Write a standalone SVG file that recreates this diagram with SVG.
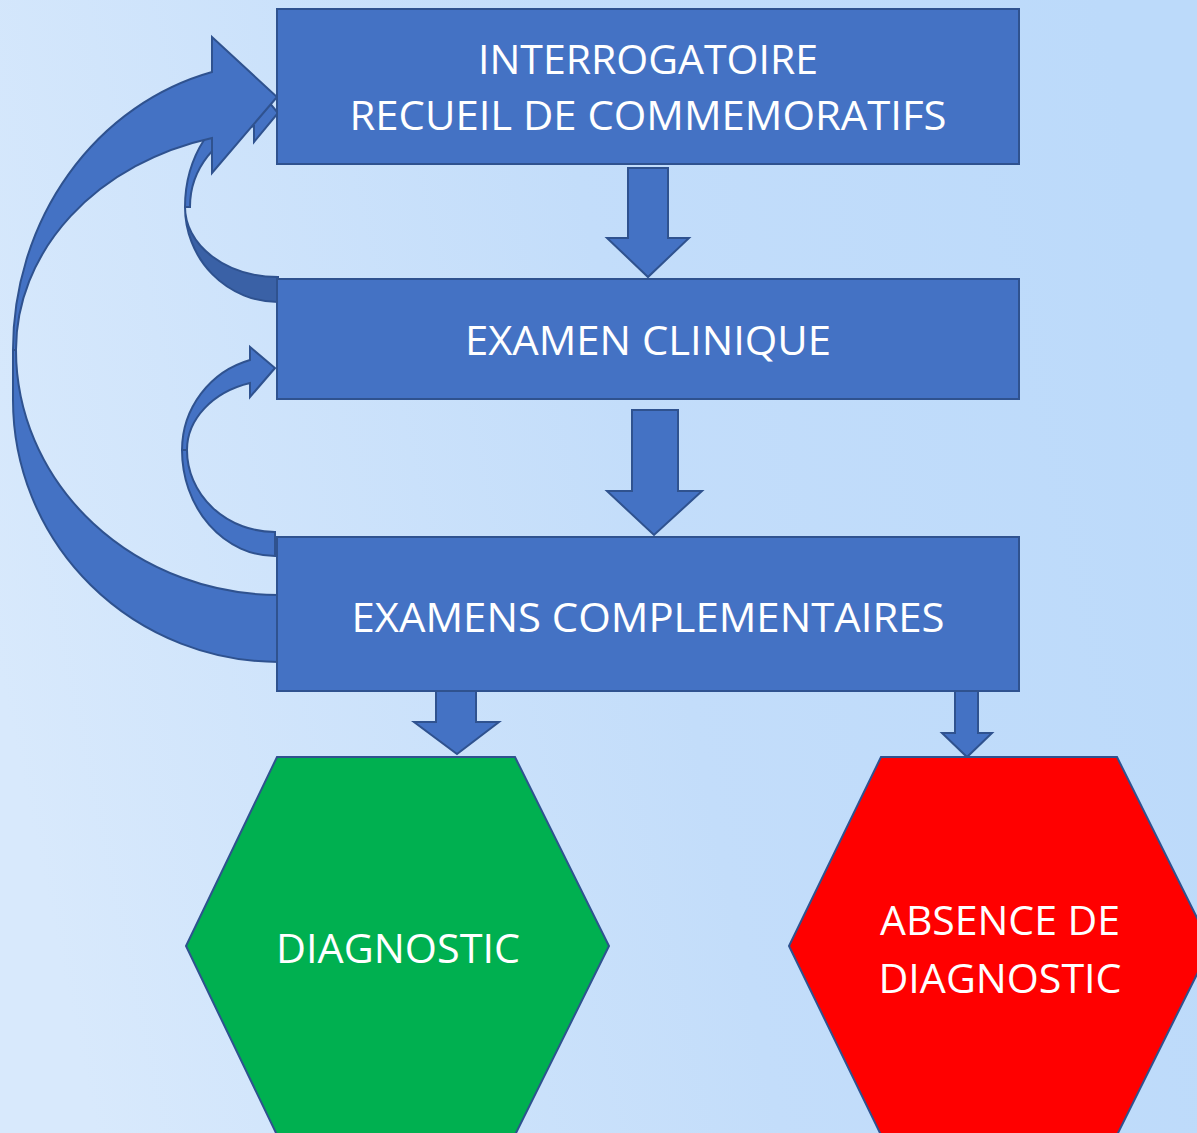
<svg xmlns="http://www.w3.org/2000/svg" width="1197" height="1133" viewBox="0 0 1197 1133">
<defs>
<linearGradient id="bg" x1="0" y1="0.6" x2="1" y2="0.4">
<stop offset="0" stop-color="#d8e9fc"/>
<stop offset="0.55" stop-color="#c3ddfa"/>
<stop offset="1" stop-color="#bcdafa"/>
</linearGradient>
<style>
.box{fill:#4472C4;stroke:#2F528F;stroke-width:2}
.arr{fill:#4472C4;stroke:#2F528F;stroke-width:2;stroke-linejoin:miter}
.dark{fill:#3A61A6;stroke:#2F528F;stroke-width:2}
.t{fill:#ffffff;font-family:"Open Sans","Liberation Sans",sans-serif;font-size:40px;text-anchor:middle}
</style>
</defs>
<rect width="1197" height="1133" fill="url(#bg)"/>
<g id="connectors">
<path class="arr" d="M628,168 L668,168 L668,238 L689,238 L648,277 L607,238 L628,238 Z"/>
<path class="arr" d="M632,410 L678,410 L678,491 L702,491 L654,535 L607,491 L632,491 Z"/>
<path class="arr" d="M436,691 L476,691 L476,722 L499,722 L457,754 L414,722 L436,722 Z"/>
<path class="arr" d="M955,691 L978,691 L978,733 L992,733 L967,757 L942,733 L955,733 Z"/>
<!-- examen clinique -> interrogatoire -->
<path class="dark" d="M278,302 A93 95 0 0 1 185,207 A93 70 0 0 0 278,277 Z"/>
<path class="arr" d="M185,207 A93 111 0 0 1 254,100 L254,84 L278,113 L254,142 L254,126 A88 84 0 0 0 190,207 Z"/>
<!-- examens complementaires -> interrogatoire -->
<path class="arr" d="M279,662 A266 262 0 0 1 13,400 L13,350 L16,350 A263 245 0 0 0 279,595 Z"/>
<path class="arr" d="M13,350 A266 287 0 0 1 212,72 L212,37 L277,97 L212,173 L212,138 A263 219 0 0 0 16,350 Z"/>
<!-- examens complementaires -> examen clinique -->
<path class="arr" d="M275,556 A93 106 0 0 1 182,450 L187,450 A88 82 0 0 0 275,532 Z"/>
<path class="arr" d="M182,450 A94 94 0 0 1 250,360 L250,347 L275,368 L250,397 L250,383 A89 70 0 0 0 187,450 Z"/>
</g>
<g id="interrogatoire">
<rect class="box" x="277" y="9" width="742" height="155"/>
<text class="t" x="648" y="74" textLength="340" lengthAdjust="spacingAndGlyphs">INTERROGATOIRE</text>
<text class="t" x="648" y="130" textLength="597" lengthAdjust="spacingAndGlyphs">RECUEIL DE COMMEMORATIFS</text>
</g>
<g id="examen-clinique">
<rect class="box" x="277" y="279" width="742" height="120"/>
<text class="t" x="648" y="355" textLength="366" lengthAdjust="spacingAndGlyphs">EXAMEN CLINIQUE</text>
</g>
<g id="examens-complementaires">
<rect class="box" x="277" y="537" width="742" height="154"/>
<text class="t" x="648" y="632" textLength="593" lengthAdjust="spacingAndGlyphs">EXAMENS COMPLEMENTAIRES</text>
</g>
<g id="diagnostic">
<polygon points="277,757 515,757 609,946 515,1135 277,1135 186,946" fill="#00B050" stroke="#2F528F" stroke-width="2"/>
<text class="t" x="398" y="963" textLength="244" lengthAdjust="spacingAndGlyphs">DIAGNOSTIC</text>
</g>
<g id="absence-diagnostic">
<polygon points="881,757 1117,757 1211,946 1117,1135 881,1135 789,946" fill="#FF0000" stroke="#2F528F" stroke-width="2"/>
<text class="t" x="1000" y="935" textLength="240" lengthAdjust="spacingAndGlyphs">ABSENCE DE</text>
<text class="t" x="1000" y="993" textLength="243" lengthAdjust="spacingAndGlyphs">DIAGNOSTIC</text>
</g>
</svg>
